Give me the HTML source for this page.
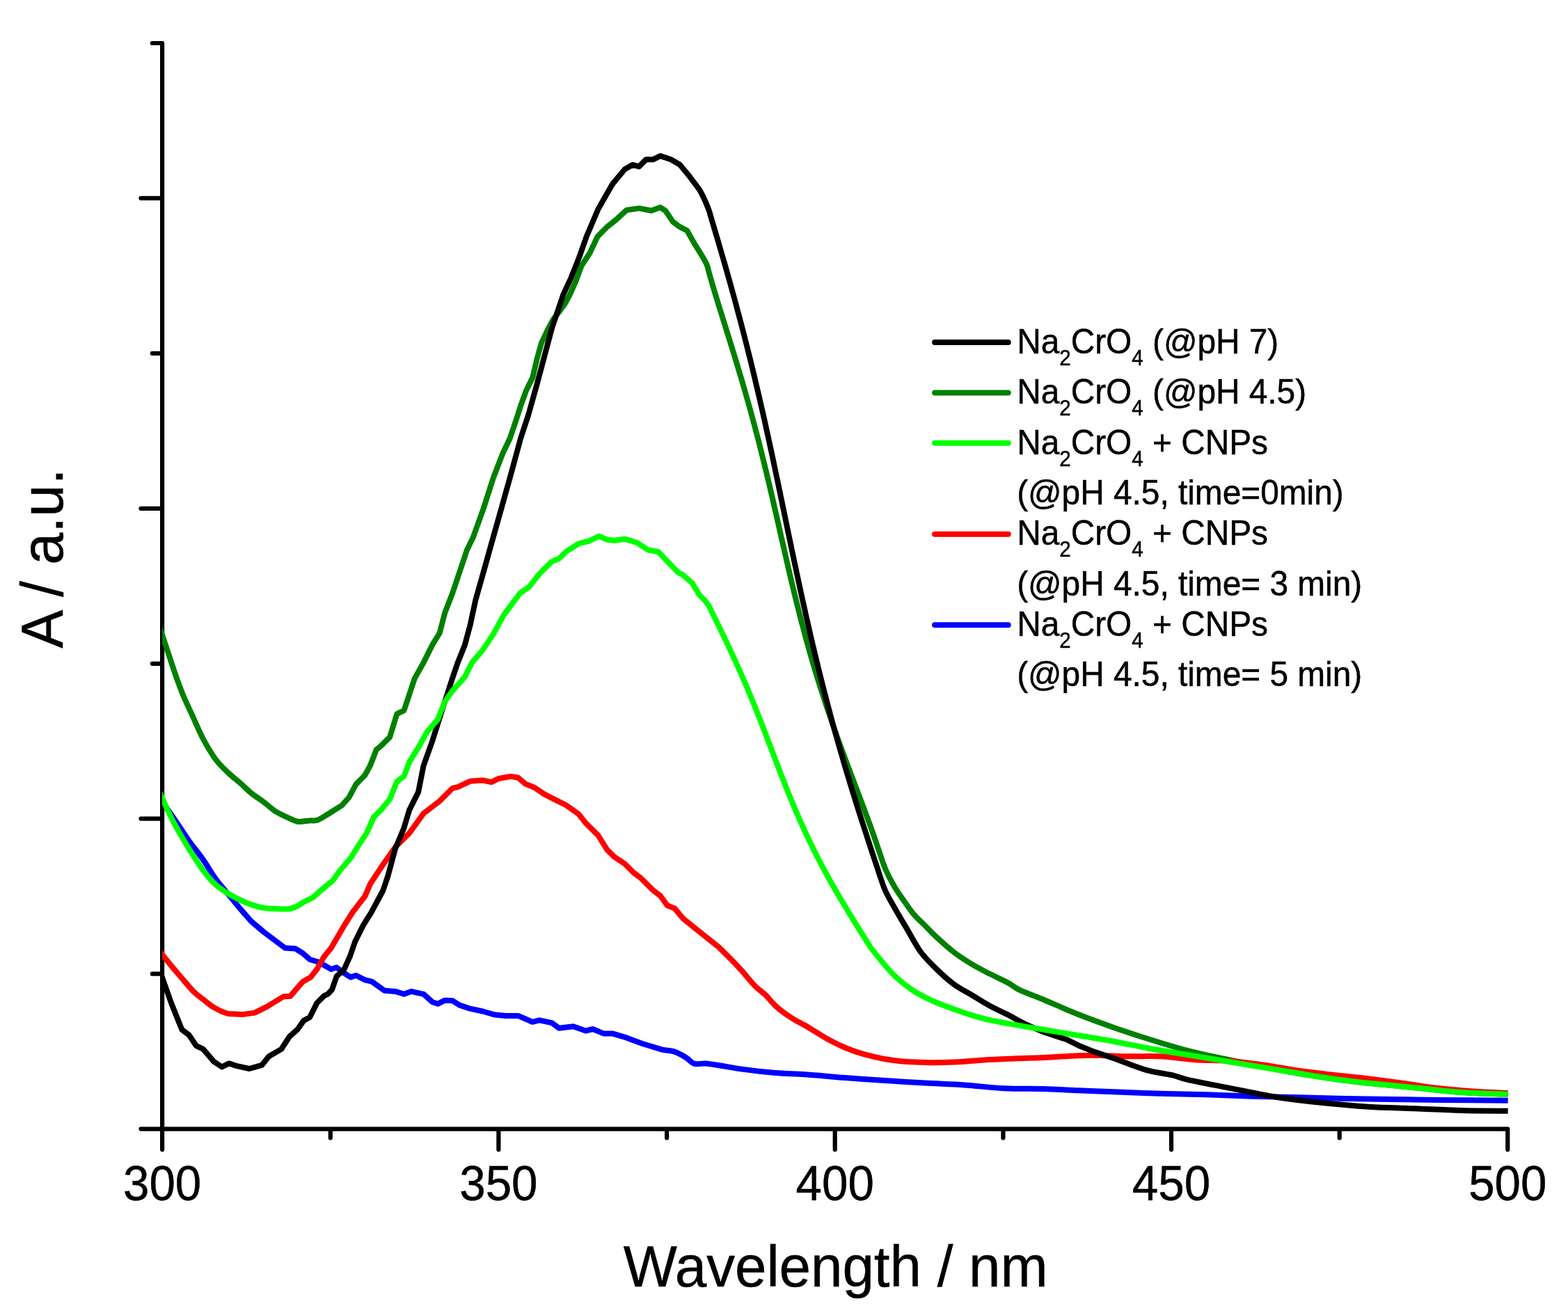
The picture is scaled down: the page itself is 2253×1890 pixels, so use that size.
<!DOCTYPE html>
<html><head><meta charset="utf-8"><title>Absorbance spectra</title>
<style>html,body{margin:0;padding:0;background:#fff;}text{fill:#000;stroke:#000;stroke-width:0.5px;}body{width:2253px;height:1890px;overflow:hidden;font-family:"Liberation Sans",Arial,sans-serif;}svg{display:block;}</style>
</head><body>
<svg width="2253" height="1890" viewBox="0 0 2253 1890" font-family="Liberation Sans, Arial, sans-serif">
<path d="M218.8,62.0 L233.1,62.0 L233.1,1622.6 L2166.3,1622.6 L2166.3,1652.3 M202.5,284.9 L233.1,284.9 M218.8,507.9 L233.1,507.9 M202.5,730.8 L233.1,730.8 M218.8,953.8 L233.1,953.8 M202.5,1176.7 L233.1,1176.7 M218.8,1399.7 L233.1,1399.7 M202.5,1622.6 L233.1,1622.6 M233.1,1622.6 L233.1,1652.3 M474.8,1622.6 L474.8,1635.5 M716.4,1622.6 L716.4,1652.3 M958.1,1622.6 L958.1,1635.5 M1199.7,1622.6 L1199.7,1652.3 M1441.4,1622.6 L1441.4,1635.5 M1683.0,1622.6 L1683.0,1652.3 M1924.7,1622.6 L1924.7,1635.5" fill="none" stroke="#000" stroke-width="6.2" stroke-linecap="round" stroke-linejoin="round"/>
<defs><clipPath id="pc"><rect x="233" y="0" width="1934" height="1622"/></clipPath></defs><g clip-path="url(#pc)">
<path d="M226.0,1141.7 C226.0,1141.7 230.2,1147.7 233.1,1152.0 C238.0,1159.0 246.0,1170.6 252.4,1180.0 C258.8,1189.4 264.9,1199.2 271.5,1208.5 C278.1,1217.7 285.5,1226.4 291.9,1235.6 C298.2,1244.6 303.6,1254.5 309.8,1263.0 C315.6,1270.9 322.0,1278.0 327.7,1285.0 C333.0,1291.5 337.7,1297.3 343.0,1303.6 L360.9,1324.1 L378.8,1339.4 L394.1,1350.9 L409.4,1362.4 L424.7,1363.6 L435.0,1370.0 L445.2,1379.0 L457.9,1382.8 L475.8,1393.0 L483.5,1390.5 L493.7,1398.1 L503.9,1404.5 L511.6,1402.0 L524.3,1408.3 L534.6,1410.9 L552.4,1423.7 L567.8,1424.9 L580.5,1428.8 L590.7,1424.9 L608.6,1428.8 L621.4,1440.3 L629.0,1442.8 L639.3,1437.7 L650.0,1438.2 L660.2,1444.6 L675.5,1449.7 L693.4,1453.5 L711.3,1458.6 L726.6,1459.9 L744.5,1459.9 L764.9,1468.8 L775.1,1466.3 L793.0,1470.1 L803.2,1477.8 L823.7,1475.2 L841.5,1481.6 L851.8,1479.0 L867.1,1485.4 L879.8,1485.4 L900.0,1491.4 L922.9,1500.0 L951.4,1508.6 C957.8,1510.1 963.0,1509.6 968.6,1511.4 C974.5,1513.3 980.7,1516.9 985.7,1520.0 C990.0,1522.7 992.6,1527.1 997.1,1528.6 C1002.0,1530.2 1007.9,1528.1 1014.3,1528.6 C1022.6,1529.2 1033.9,1531.5 1042.9,1532.9 C1050.9,1534.2 1056.7,1535.4 1065.7,1536.6 C1078.9,1538.4 1098.6,1540.7 1114.3,1542.0 C1129.0,1543.2 1141.8,1543.2 1157.1,1544.3 C1174.8,1545.5 1195.2,1547.7 1214.3,1549.1 C1233.3,1550.5 1252.4,1551.7 1271.4,1552.9 C1290.5,1554.2 1309.5,1555.5 1328.6,1556.6 C1347.6,1557.7 1366.7,1558.1 1385.7,1559.4 C1404.8,1560.7 1423.8,1563.4 1442.9,1564.3 C1461.9,1565.2 1481.6,1564.6 1500.0,1565.1 C1517.2,1565.6 1533.3,1566.6 1550.0,1567.3 C1566.7,1568.0 1582.1,1568.6 1600.0,1569.3 C1620.6,1570.1 1644.5,1571.0 1666.7,1571.7 C1688.9,1572.4 1711.1,1572.6 1733.3,1573.3 C1755.5,1574.0 1777.8,1575.0 1800.0,1575.7 C1822.2,1576.4 1844.5,1576.7 1866.7,1577.3 C1888.9,1577.8 1911.1,1578.6 1933.3,1579.0 C1955.5,1579.5 1977.8,1579.7 2000.0,1580.0 C2022.2,1580.3 2042.2,1580.7 2066.7,1581.0 C2096.7,1581.3 2166.7,1581.7 2166.7,1581.7" fill="none" stroke="#0000FF" stroke-width="8.0" stroke-linejoin="round" stroke-linecap="butt"/>
<path d="M226.0,891.5 C226.0,891.5 230.5,905.0 233.1,912.7 C236.2,922.0 240.0,933.3 243.4,943.5 C246.8,953.7 250.1,964.2 253.6,974.0 C256.9,983.2 260.1,991.7 263.8,1000.7 C267.7,1010.0 272.1,1019.0 276.6,1028.8 C281.5,1039.4 286.3,1051.4 291.9,1062.0 C297.4,1072.2 303.4,1082.8 309.8,1091.3 C315.4,1098.7 321.6,1104.6 327.7,1110.5 C333.5,1116.1 339.9,1120.8 345.6,1125.8 C350.9,1130.5 355.5,1135.5 360.9,1139.9 C366.5,1144.4 372.9,1148.2 378.8,1152.6 C384.8,1157.1 390.7,1163.0 396.6,1166.7 C401.7,1170.0 406.8,1171.9 412.0,1174.3 C417.1,1176.6 421.9,1179.8 427.3,1180.7 C432.9,1181.6 440.1,1179.7 445.2,1179.4 C449.1,1179.2 451.8,1179.9 455.4,1178.9 C460.1,1177.6 465.3,1173.7 470.7,1170.5 L491.1,1157.7 L501.4,1146.2 L511.6,1127.1 L524.3,1114.3 L532.0,1100.3 L540.9,1077.3 L547.3,1072.2 L560.1,1059.4 L570.3,1026.2 L580.5,1021.1 L588.2,998.1 L595.8,975.1 L608.6,952.2 L621.4,926.6 L631.6,910.0 L639.3,880.6 L650.0,853.0 L662.6,815.4 L671.1,790.0 L679.6,772.8 L694.9,730.3 L708.5,687.7 L722.2,652.0 L732.7,630.0 L740.8,606.1 L748.1,583.4 L756.3,560.7 L765.3,542.6 L771.7,515.4 L778.0,492.7 L786.5,475.0 L795.0,459.0 L805.0,446.0 L812.0,436.0 L818.8,423.5 L827.6,403.6 L835.5,382.1 L847.4,363.8 L858.6,340.0 L872.2,326.2 L885.0,316.0 L900.3,302.0 L918.2,299.4 L936.0,302.7 L948.8,298.1 L956.5,303.2 L966.7,318.6 L976.9,326.2 L987.1,331.3 L997.3,349.2 C1002.5,358.1 1012.0,371.9 1015.4,380.0 C1017.5,384.8 1017.7,388.0 1018.8,392.0 C1019.9,396.0 1021.1,400.0 1022.3,404.0 C1023.4,408.0 1024.6,412.0 1025.8,416.0 C1027.0,420.0 1028.2,424.0 1029.4,428.0 C1030.7,432.0 1031.9,436.0 1033.1,440.0 C1034.4,444.0 1035.6,448.0 1036.9,452.0 C1038.1,456.0 1039.3,460.0 1040.6,464.0 C1041.8,468.0 1043.1,472.0 1044.3,476.0 C1045.6,480.0 1046.8,484.0 1048.1,488.0 C1049.3,492.0 1050.5,496.0 1051.8,500.0 C1053.0,504.0 1054.2,508.0 1055.5,512.0 C1056.7,516.0 1057.9,520.0 1059.1,524.0 C1060.3,528.0 1061.5,532.0 1062.7,536.0 C1063.9,540.0 1065.1,544.0 1066.3,548.0 C1067.5,552.0 1068.6,556.0 1069.8,560.0 C1070.9,564.0 1072.1,568.0 1073.2,572.0 C1074.3,576.0 1075.5,580.0 1076.6,584.0 C1077.7,588.0 1078.8,592.0 1079.9,596.0 C1081.0,600.0 1082.1,604.0 1083.2,608.0 C1084.2,612.0 1085.3,616.0 1086.3,620.0 C1087.4,624.0 1088.4,628.0 1089.5,632.0 C1090.5,636.0 1091.5,640.0 1092.5,644.0 C1093.5,648.0 1094.6,652.0 1095.5,656.0 C1096.5,660.0 1097.5,664.0 1098.5,668.0 C1099.5,672.0 1100.4,676.0 1101.4,680.0 C1102.4,684.0 1103.3,688.0 1104.3,692.0 C1105.2,696.0 1106.2,700.0 1107.1,704.0 C1108.0,708.0 1109.0,712.0 1109.9,716.0 C1110.8,720.0 1111.7,724.0 1112.6,728.0 C1113.6,732.0 1114.5,736.0 1115.4,740.0 C1116.3,744.0 1117.2,748.0 1118.1,752.0 C1119.0,756.0 1119.9,760.0 1120.8,764.0 C1121.7,768.0 1122.6,772.0 1123.5,776.0 C1124.5,780.0 1125.4,784.0 1126.3,788.0 C1127.2,792.0 1128.1,796.0 1129.0,800.0 C1129.9,804.0 1130.9,808.0 1131.8,812.0 C1132.7,816.0 1133.6,820.0 1134.6,824.0 C1135.5,828.0 1136.4,832.0 1137.4,836.0 C1138.3,840.0 1139.3,844.0 1140.3,848.0 C1141.2,852.0 1142.2,856.0 1143.2,860.0 C1144.2,864.0 1145.2,868.0 1146.2,872.0 C1147.2,876.0 1148.2,880.0 1149.2,884.0 C1150.2,888.0 1151.2,892.0 1152.3,896.0 C1153.3,900.0 1154.4,904.0 1155.5,908.0 C1156.5,912.0 1157.6,916.0 1158.7,920.0 C1159.8,924.0 1160.9,928.0 1162.1,932.0 C1163.2,936.0 1164.3,940.0 1165.5,944.0 C1166.6,948.0 1167.8,952.0 1169.0,956.0 C1170.2,960.0 1171.4,964.0 1172.6,968.0 C1173.8,972.0 1175.0,976.0 1176.3,980.0 C1177.5,984.0 1178.8,988.0 1180.1,992.0 C1181.4,996.0 1182.7,1000.0 1184.0,1004.0 C1185.3,1008.0 1186.6,1012.0 1187.9,1016.0 C1189.3,1020.0 1190.6,1024.0 1192.0,1028.0 C1193.4,1032.0 1194.7,1036.0 1196.1,1040.0 C1197.5,1044.0 1198.9,1048.0 1200.3,1052.0 C1201.8,1056.0 1203.2,1060.0 1204.6,1064.0 C1206.1,1068.0 1207.5,1072.0 1209.0,1076.0 C1210.5,1080.0 1211.9,1084.0 1213.4,1088.0 C1214.9,1092.0 1216.4,1096.0 1217.9,1100.0 C1219.4,1104.0 1220.9,1108.0 1222.4,1112.0 C1223.9,1116.0 1225.4,1120.0 1226.9,1124.0 C1228.4,1128.0 1230.0,1132.0 1231.5,1136.0 C1233.0,1140.0 1234.5,1144.0 1236.0,1148.0 C1237.5,1152.0 1239.0,1156.0 1240.5,1160.0 C1242.0,1164.0 1243.5,1168.0 1245.0,1172.0 C1246.5,1176.0 1247.9,1180.0 1249.4,1184.0 C1250.9,1188.0 1252.3,1192.0 1253.7,1196.0 C1255.2,1200.0 1256.6,1204.0 1257.9,1208.0 C1259.3,1212.0 1260.3,1215.1 1262.0,1220.0 C1264.7,1227.8 1268.5,1240.5 1272.6,1250.0 C1276.6,1259.1 1281.4,1268.0 1286.2,1276.0 C1290.5,1283.2 1295.2,1289.5 1299.8,1296.0 C1304.3,1302.4 1308.6,1309.0 1313.5,1314.7 C1318.3,1320.3 1323.6,1324.8 1328.8,1330.0 C1334.3,1335.5 1339.4,1341.1 1345.8,1347.0 C1353.4,1354.0 1362.7,1362.5 1371.4,1369.2 C1379.7,1375.5 1388.3,1381.0 1396.9,1386.2 C1405.3,1391.2 1413.7,1395.3 1422.4,1399.8 C1431.4,1404.4 1442.7,1409.3 1450.0,1413.5 C1455.1,1416.4 1457.1,1418.7 1462.6,1421.6 C1471.6,1426.3 1486.6,1431.4 1500.0,1437.0 C1515.5,1443.5 1533.2,1451.7 1550.0,1458.3 C1566.6,1464.9 1583.3,1470.9 1600.0,1476.7 C1616.6,1482.5 1633.3,1488.0 1650.0,1493.3 C1666.6,1498.6 1683.3,1503.8 1700.0,1508.3 C1716.6,1512.7 1733.3,1516.4 1750.0,1520.0 C1766.6,1523.6 1783.3,1526.7 1800.0,1530.0 C1816.7,1533.3 1833.3,1536.9 1850.0,1540.0 C1866.6,1543.0 1883.3,1545.8 1900.0,1548.3 C1916.6,1550.8 1933.3,1553.0 1950.0,1555.0 C1966.7,1556.9 1983.3,1558.3 2000.0,1560.0 C2016.7,1561.7 2033.3,1563.3 2050.0,1565.0 C2066.7,1566.7 2082.1,1568.7 2100.0,1570.0 C2120.6,1571.4 2166.7,1572.7 2166.7,1572.7" fill="none" stroke="#008000" stroke-width="8.0" stroke-linejoin="round" stroke-linecap="butt"/>
<path d="M226.0,1363.2 C226.0,1363.2 230.4,1368.7 233.1,1372.0 C236.8,1376.5 241.5,1382.5 246.0,1387.9 C250.8,1393.7 256.0,1399.7 261.3,1405.8 C267.0,1412.4 273.5,1420.8 279.2,1426.2 C283.6,1430.4 287.4,1432.9 291.9,1436.4 C296.8,1440.2 301.6,1444.6 307.3,1447.9 C313.4,1451.5 320.7,1455.2 327.7,1456.9 L348.1,1458.1 L366.0,1455.6 L383.9,1446.6 L406.9,1432.6 L417.1,1431.8 L435.0,1410.9 L446.4,1404.5 L455.4,1393.0 L465.6,1375.1 L475.8,1362.4 L493.7,1331.7 L506.5,1311.3 L524.3,1288.3 L532.0,1270.4 L549.9,1243.3 L567.8,1217.7 L588.2,1197.3 L608.6,1169.2 L631.6,1151.4 L650.0,1133.0 L657.7,1131.2 L675.5,1122.8 L693.4,1121.5 L706.2,1124.1 L716.4,1119.0 L734.3,1115.9 L744.5,1117.7 L754.7,1126.6 L767.5,1131.7 L782.8,1141.9 L798.1,1149.6 L813.4,1157.3 L831.3,1170.0 L841.5,1182.8 L859.4,1200.7 L872.2,1221.1 L882.4,1231.3 L897.7,1241.5 L910.5,1254.3 L920.7,1262.0 L938.6,1279.8 L948.8,1287.5 L959.0,1301.6 L969.2,1305.4 L982.0,1320.7 L1007.5,1341.1 L1033.1,1361.6 L1051.0,1379.4 C1056.2,1384.7 1060.5,1389.2 1065.7,1395.0 C1071.9,1401.9 1079.4,1411.8 1085.7,1418.0 C1090.7,1422.9 1095.4,1425.6 1100.0,1430.0 C1104.9,1434.7 1108.7,1440.6 1114.3,1445.7 C1120.8,1451.6 1129.3,1457.8 1137.1,1462.9 C1144.6,1467.8 1152.2,1471.1 1160.0,1475.7 C1168.4,1480.6 1176.8,1486.5 1185.7,1491.4 C1194.9,1496.5 1204.6,1501.6 1214.3,1505.7 C1223.7,1509.7 1232.3,1512.8 1242.9,1515.7 C1255.6,1519.2 1271.4,1522.4 1285.7,1524.3 C1299.9,1526.2 1314.3,1526.7 1328.6,1527.1 C1342.9,1527.5 1357.1,1527.2 1371.4,1526.6 C1385.7,1526.0 1400.0,1524.3 1414.3,1523.4 C1428.6,1522.5 1442.8,1522.0 1457.1,1521.4 C1471.4,1520.8 1484.1,1520.7 1500.0,1520.0 C1519.8,1519.2 1546.1,1516.9 1566.7,1516.7 C1584.6,1516.5 1600.0,1518.0 1616.7,1518.3 C1633.4,1518.6 1650.1,1517.5 1666.7,1518.3 C1683.4,1519.1 1700.0,1522.2 1716.7,1523.3 C1733.3,1524.4 1750.1,1523.8 1766.7,1525.0 C1783.4,1526.2 1800.1,1528.4 1816.7,1530.7 C1833.4,1533.0 1850.0,1536.6 1866.7,1539.0 C1883.3,1541.4 1900.0,1543.1 1916.7,1545.0 C1933.4,1546.9 1950.0,1548.5 1966.7,1550.5 C1983.4,1552.5 2000.0,1554.8 2016.7,1557.0 C2033.4,1559.3 2050.0,1562.1 2066.7,1564.0 C2083.3,1565.9 2100.0,1567.3 2116.7,1568.5 C2133.4,1569.7 2166.7,1571.0 2166.7,1571.0" fill="none" stroke="#FF0000" stroke-width="8.0" stroke-linejoin="round" stroke-linecap="butt"/>
<path d="M226.0,1384.9 L233.1,1405.0 L246.0,1441.5 L261.3,1479.8 L271.5,1487.5 L281.7,1502.8 L291.9,1507.9 L307.3,1525.8 L318.8,1533.5 L329.0,1528.4 L340.5,1532.2 L358.3,1536.0 L376.2,1530.9 L386.4,1518.2 L404.3,1507.9 L415.8,1490.0 L427.3,1479.8 L436.2,1467.1 L445.2,1462.0 L455.4,1441.5 L465.6,1431.3 L471.4,1428.5 L477.0,1422.3 L483.8,1403.0 L494.1,1393.9 L502.6,1375.2 L510.5,1352.6 L521.9,1329.9 L533.2,1311.8 L541.2,1297.0 L550.3,1280.0 L557.5,1258.6 L567.8,1220.3 L580.5,1189.7 L588.2,1164.1 L601.0,1138.6 L608.6,1100.3 L621.4,1064.5 L634.2,1023.7 L650.0,975.0 L657.7,952.4 L667.9,926.9 L675.5,898.8 L683.2,863.0 L696.6,815.4 L708.5,772.9 L720.5,730.3 L734.0,682.0 L748.1,630.0 L759.0,597.0 L771.7,551.7 L786.2,497.2 L793.5,470.0 L801.3,447.3 L809.3,423.5 L820.4,399.6 L831.5,371.8 L842.7,340.0 L859.4,300.7 L869.6,282.8 L879.8,264.9 L897.7,243.2 L909.2,236.8 L918.2,239.4 L928.4,229.2 L938.6,229.2 L948.8,224.1 L964.1,229.2 L976.9,236.8 L989.7,252.2 L1005.0,272.6 C1010.0,281.0 1015.2,293.2 1018.1,300.7 C1019.9,305.5 1020.5,308.7 1021.7,312.7 C1022.9,316.7 1024.1,320.7 1025.3,324.7 C1026.5,328.7 1027.6,332.7 1028.8,336.7 C1030.0,340.7 1031.2,344.7 1032.4,348.7 C1033.5,352.7 1034.7,356.7 1035.9,360.7 C1037.0,364.7 1038.2,368.7 1039.4,372.7 C1040.5,376.7 1041.7,380.7 1042.8,384.7 C1043.9,388.7 1045.1,392.7 1046.2,396.7 C1047.3,400.7 1048.5,404.7 1049.6,408.7 C1050.7,412.7 1051.8,416.7 1052.9,420.7 C1054.0,424.7 1055.1,428.7 1056.2,432.7 C1057.3,436.7 1058.4,440.7 1059.4,444.7 C1060.5,448.7 1061.6,452.7 1062.6,456.7 C1063.7,460.7 1064.7,464.7 1065.8,468.7 C1066.8,472.7 1067.9,476.7 1068.9,480.7 C1069.9,484.7 1071.0,488.7 1072.0,492.7 C1073.0,496.7 1074.0,500.7 1075.0,504.7 C1076.0,508.7 1077.0,512.7 1078.0,516.7 C1079.0,520.7 1079.9,524.7 1080.9,528.7 C1081.9,532.7 1082.8,536.7 1083.8,540.7 C1084.8,544.7 1085.7,548.7 1086.6,552.7 C1087.6,556.7 1088.5,560.7 1089.5,564.7 C1090.4,568.7 1091.3,572.7 1092.2,576.7 C1093.2,580.7 1094.1,584.7 1095.0,588.7 C1095.9,592.7 1096.8,596.7 1097.7,600.7 C1098.6,604.7 1099.5,608.7 1100.4,612.7 C1101.2,616.7 1102.1,620.7 1103.0,624.7 C1103.9,628.7 1104.7,632.7 1105.6,636.7 C1106.5,640.7 1107.3,644.7 1108.2,648.7 C1109.1,652.7 1109.9,656.7 1110.8,660.7 C1111.6,664.7 1112.5,668.7 1113.3,672.7 C1114.2,676.7 1115.0,680.7 1115.8,684.7 C1116.7,688.7 1117.5,692.7 1118.4,696.7 C1119.2,700.7 1120.0,704.7 1120.9,708.7 C1121.7,712.7 1122.5,716.7 1123.4,720.7 C1124.2,724.7 1125.0,728.7 1125.8,732.7 C1126.7,736.7 1127.5,740.7 1128.3,744.7 C1129.2,748.7 1130.0,752.7 1130.8,756.7 C1131.6,760.7 1132.5,764.7 1133.3,768.7 C1134.1,772.7 1135.0,776.7 1135.8,780.7 C1136.6,784.7 1137.5,788.7 1138.3,792.7 C1139.1,796.7 1140.0,800.7 1140.8,804.7 C1141.7,808.7 1142.5,812.7 1143.4,816.7 C1144.2,820.7 1145.0,824.7 1145.9,828.7 C1146.8,832.7 1147.6,836.7 1148.5,840.7 C1149.3,844.7 1150.2,848.7 1151.1,852.7 C1151.9,856.7 1152.8,860.7 1153.7,864.7 C1154.6,868.7 1155.5,872.7 1156.4,876.7 C1157.2,880.7 1158.1,884.7 1159.0,888.7 C1159.9,892.7 1160.9,896.7 1161.8,900.7 C1162.7,904.7 1163.6,908.7 1164.5,912.7 C1165.5,916.7 1166.4,920.7 1167.3,924.7 C1168.3,928.7 1169.2,932.7 1170.2,936.7 C1171.1,940.7 1172.1,944.7 1173.1,948.7 C1174.0,952.7 1175.0,956.7 1176.0,960.7 C1177.0,964.7 1178.0,968.7 1179.0,972.7 C1180.0,976.7 1181.0,980.7 1182.0,984.7 C1183.0,988.7 1184.0,992.7 1185.1,996.7 C1186.1,1000.7 1187.1,1004.7 1188.2,1008.7 C1189.2,1012.7 1190.3,1016.7 1191.4,1020.7 C1192.4,1024.7 1193.5,1028.7 1194.6,1032.7 C1195.7,1036.7 1196.8,1040.7 1197.9,1044.7 C1199.0,1048.7 1200.1,1052.7 1201.2,1056.7 C1202.4,1060.7 1203.5,1064.7 1204.6,1068.7 C1205.8,1072.7 1206.9,1076.7 1208.1,1080.7 C1209.2,1084.7 1210.4,1088.7 1211.6,1092.7 C1212.7,1096.7 1213.9,1100.7 1215.1,1104.7 C1216.3,1108.7 1217.5,1112.7 1218.7,1116.7 C1219.9,1120.7 1221.2,1124.7 1222.4,1128.7 C1223.6,1132.7 1224.8,1136.7 1226.1,1140.7 C1227.3,1144.7 1228.6,1148.7 1229.8,1152.7 C1231.1,1156.7 1232.3,1160.7 1233.6,1164.7 C1234.9,1168.7 1236.1,1172.7 1237.4,1176.7 C1238.7,1180.7 1240.0,1184.7 1241.3,1188.7 C1242.6,1192.7 1243.9,1196.7 1245.2,1200.7 C1246.5,1204.7 1247.8,1208.7 1249.1,1212.7 C1250.4,1216.7 1251.7,1220.7 1253.0,1224.7 C1254.4,1228.7 1255.7,1232.7 1257.0,1236.7 C1258.3,1240.7 1259.7,1244.8 1261.0,1248.7 C1262.3,1252.5 1263.3,1255.7 1264.7,1260.0 C1266.7,1265.7 1268.9,1273.0 1272.0,1280.0 C1275.7,1288.3 1281.2,1297.3 1286.2,1306.2 C1291.5,1315.6 1297.2,1325.1 1303.2,1335.1 C1309.7,1346.0 1316.2,1359.2 1323.7,1369.2 C1330.5,1378.2 1337.9,1385.4 1345.8,1393.0 C1353.8,1400.8 1362.6,1408.8 1371.4,1415.2 C1379.7,1421.2 1388.4,1425.4 1396.9,1430.5 C1405.4,1435.6 1413.6,1441.0 1422.4,1445.8 C1431.3,1450.7 1441.7,1455.1 1450.0,1459.4 C1456.8,1462.9 1461.5,1466.0 1468.6,1469.5 C1477.8,1474.0 1490.1,1479.6 1501.0,1483.8 L1533.3,1494.3 L1552.4,1503.8 L1571.4,1511.4 L1600.0,1521.0 C1613.9,1525.8 1632.5,1533.9 1647.6,1538.1 C1660.9,1541.8 1675.2,1543.1 1685.7,1545.7 C1693.2,1547.6 1696.7,1549.4 1704.8,1551.4 C1718.7,1554.9 1744.8,1559.5 1761.9,1562.9 C1775.9,1565.7 1787.7,1568.1 1800.0,1570.5 C1811.5,1572.7 1820.3,1574.7 1833.3,1576.7 C1851.7,1579.6 1877.7,1582.7 1900.0,1585.0 C1922.2,1587.3 1944.5,1589.3 1966.7,1590.7 C1988.9,1592.1 2011.1,1592.4 2033.3,1593.3 C2055.5,1594.2 2077.8,1595.4 2100.0,1596.0 C2122.2,1596.6 2166.7,1596.7 2166.7,1596.7" fill="none" stroke="#000000" stroke-width="8.0" stroke-linejoin="round" stroke-linecap="butt"/>
<path d="M226.0,1131.6 C226.0,1131.6 230.4,1141.1 233.1,1147.0 C236.9,1155.2 241.8,1166.8 246.6,1176.2 C251.2,1185.4 256.2,1194.3 261.3,1203.0 C266.3,1211.5 271.4,1219.9 276.6,1228.0 C281.6,1235.9 286.3,1243.7 291.9,1251.0 C297.4,1258.2 303.3,1265.5 309.8,1271.4 C316.1,1277.0 323.0,1281.5 330.2,1285.8 C337.5,1290.1 345.2,1294.0 353.2,1297.2 C361.4,1300.4 370.7,1303.4 378.8,1304.9 C385.9,1306.2 392.6,1306.0 399.2,1306.2 C405.4,1306.4 412.0,1307.1 417.1,1306.2 L427.3,1302.4 L435.0,1297.2 L450.3,1289.6 L463.1,1278.1 L478.4,1265.3 L488.6,1251.0 L503.9,1233.1 L516.7,1212.6 L526.9,1197.3 L537.1,1174.3 L547.3,1164.1 L560.1,1148.8 L570.3,1123.3 L580.5,1115.6 L588.2,1095.2 L601.0,1074.7 L613.7,1051.8 L629.0,1033.9 L639.3,1008.3 L650.0,993.0 L667.9,972.9 L678.1,952.4 L693.4,934.6 L708.7,911.6 L724.1,883.5 L747.0,852.8 L759.8,843.9 L775.1,824.7 L793.0,806.9 L803.2,803.0 L813.4,792.8 L831.3,781.3 L846.6,777.5 L860.7,770.6 L872.2,775.7 L882.4,776.7 L897.7,774.7 L915.6,780.0 L930.9,790.3 L946.2,793.3 L956.5,804.3 L974.1,822.6 L980.9,826.0 L994.5,837.9 L1004.8,855.0 L1013.3,863.5 L1018.2,870.3 C1020.2,873.7 1022.1,878.3 1024.1,882.3 C1026.1,886.3 1028.1,890.3 1030.1,894.3 C1032.0,898.3 1034.0,902.3 1035.9,906.3 C1037.9,910.3 1039.8,914.3 1041.7,918.3 C1043.7,922.3 1045.6,926.3 1047.4,930.3 C1049.3,934.3 1051.2,938.3 1053.0,942.3 C1054.9,946.3 1056.7,950.3 1058.5,954.3 C1060.3,958.3 1062.1,962.3 1063.9,966.3 C1065.6,970.3 1067.4,974.3 1069.1,978.3 C1070.8,982.3 1072.5,986.3 1074.2,990.3 C1075.9,994.3 1077.5,998.3 1079.2,1002.3 C1080.8,1006.3 1082.4,1010.3 1084.1,1014.3 C1085.7,1018.3 1087.3,1022.3 1088.9,1026.3 C1090.4,1030.3 1092.0,1034.3 1093.6,1038.3 C1095.1,1042.3 1096.7,1046.3 1098.2,1050.3 C1099.8,1054.3 1101.3,1058.3 1102.8,1062.3 C1104.3,1066.3 1105.9,1070.3 1107.4,1074.3 C1108.9,1078.3 1110.4,1082.3 1112.0,1086.3 C1113.5,1090.3 1115.0,1094.3 1116.6,1098.3 C1118.1,1102.3 1119.6,1106.3 1121.2,1110.3 C1122.7,1114.3 1124.3,1118.3 1125.9,1122.3 C1127.4,1126.3 1129.0,1130.3 1130.6,1134.3 C1132.2,1138.3 1133.9,1142.3 1135.5,1146.3 C1137.1,1150.3 1138.8,1154.3 1140.5,1158.3 C1142.2,1162.3 1143.9,1166.3 1145.6,1170.3 C1147.3,1174.3 1149.1,1178.3 1150.9,1182.3 C1152.7,1186.3 1154.5,1190.3 1156.3,1194.3 C1158.2,1198.3 1160.0,1202.3 1161.9,1206.3 C1163.8,1210.3 1165.8,1214.3 1167.7,1218.3 C1169.7,1222.3 1171.7,1226.3 1173.8,1230.3 C1175.8,1234.3 1177.9,1238.3 1180.0,1242.3 C1182.1,1246.3 1184.2,1250.3 1186.4,1254.3 C1188.6,1258.3 1190.8,1262.3 1193.0,1266.3 C1195.3,1270.3 1197.5,1274.3 1199.8,1278.3 C1202.1,1282.3 1204.5,1286.3 1206.8,1290.3 C1209.2,1294.3 1211.6,1298.3 1214.0,1302.3 C1216.4,1306.3 1218.8,1310.3 1221.3,1314.3 C1223.8,1318.3 1226.2,1322.3 1228.7,1326.3 C1231.2,1330.3 1233.7,1334.3 1236.2,1338.3 C1238.7,1342.3 1241.3,1346.3 1243.8,1350.3 C1246.3,1354.3 1250.9,1361.6 1251.3,1362.3 C1251.4,1362.4 1251.3,1362.3 1251.4,1362.4 C1252.1,1363.3 1263.2,1377.5 1269.2,1384.5 C1274.8,1391.1 1279.7,1397.1 1286.2,1403.2 C1293.6,1410.2 1303.0,1417.9 1311.8,1423.7 C1320.1,1429.1 1328.7,1433.3 1337.3,1437.3 C1345.7,1441.2 1353.6,1444.1 1362.8,1447.5 C1373.3,1451.4 1386.3,1456.1 1396.9,1459.4 C1406.0,1462.2 1413.7,1464.2 1422.4,1466.2 C1431.4,1468.2 1439.4,1469.5 1450.0,1471.4 C1464.2,1474.0 1483.3,1477.2 1500.0,1480.0 C1516.7,1482.8 1533.3,1485.5 1550.0,1488.3 C1566.7,1491.1 1583.4,1493.6 1600.0,1496.7 C1616.7,1499.8 1633.3,1503.6 1650.0,1506.7 C1666.6,1509.7 1683.3,1512.2 1700.0,1515.0 C1716.7,1517.8 1733.3,1520.5 1750.0,1523.3 C1766.7,1526.1 1783.3,1528.9 1800.0,1531.7 C1816.7,1534.5 1833.3,1537.2 1850.0,1540.0 C1866.7,1542.8 1883.3,1545.8 1900.0,1548.3 C1916.6,1550.8 1933.3,1553.0 1950.0,1555.0 C1966.7,1556.9 1983.3,1558.3 2000.0,1560.0 C2016.7,1561.7 2033.3,1563.3 2050.0,1565.0 C2066.7,1566.7 2082.1,1568.7 2100.0,1570.0 C2120.6,1571.4 2166.7,1572.7 2166.7,1572.7" fill="none" stroke="#00FF00" stroke-width="8.0" stroke-linejoin="round" stroke-linecap="butt"/>
</g>
<text transform="translate(233.10,1725.20) scale(1,1.04)" font-size="67.3" text-anchor="middle">300</text>
<text transform="translate(716.40,1725.20) scale(1,1.04)" font-size="67.3" text-anchor="middle">350</text>
<text transform="translate(1199.70,1725.20) scale(1,1.04)" font-size="67.3" text-anchor="middle">400</text>
<text transform="translate(1683.00,1725.20) scale(1,1.04)" font-size="67.3" text-anchor="middle">450</text>
<text transform="translate(2166.30,1725.20) scale(1,1.04)" font-size="67.3" text-anchor="middle">500</text>
<text transform="translate(1200.60,1848.90) scale(1,1.03)" font-size="81.7" text-anchor="middle">Wavelength / nm</text>
<text transform="translate(89.9,802.6) rotate(-90) scale(1,1.025)" font-size="82.9" text-anchor="middle">A / a.u.</text>
<line x1="1343.1" y1="491.9" x2="1448.7" y2="491.9" stroke="#000000" stroke-width="8.0" stroke-linecap="round"/>
<text transform="translate(1461.20,507.50) scale(1,1.04)" font-size="47.8" xml:space="preserve">Na<tspan font-size="29.5" dy="16.5">2</tspan><tspan dy="-16.5">CrO</tspan><tspan font-size="29.5" dy="16.5">4</tspan><tspan dy="-16.5"> (@pH 7)</tspan></text>
<line x1="1343.1" y1="564.6" x2="1448.7" y2="564.6" stroke="#008000" stroke-width="8.0" stroke-linecap="round"/>
<text transform="translate(1461.20,580.00) scale(1,1.04)" font-size="47.8" xml:space="preserve">Na<tspan font-size="29.5" dy="16.5">2</tspan><tspan dy="-16.5">CrO</tspan><tspan font-size="29.5" dy="16.5">4</tspan><tspan dy="-16.5"> (@pH 4.5)</tspan></text>
<line x1="1343.1" y1="636.8" x2="1448.7" y2="636.8" stroke="#00FF00" stroke-width="8.0" stroke-linecap="round"/>
<text transform="translate(1461.20,652.70) scale(1,1.04)" font-size="47.8" xml:space="preserve">Na<tspan font-size="29.5" dy="16.5">2</tspan><tspan dy="-16.5">CrO</tspan><tspan font-size="29.5" dy="16.5">4</tspan><tspan dy="-16.5"> + CNPs</tspan></text>
<text transform="translate(1461.20,725.00) scale(1,1.04)" font-size="47.8">(@pH 4.5, time=0min)</text>
<line x1="1343.1" y1="767.7" x2="1448.7" y2="767.7" stroke="#FF0000" stroke-width="8.0" stroke-linecap="round"/>
<text transform="translate(1461.20,782.80) scale(1,1.04)" font-size="47.8" xml:space="preserve">Na<tspan font-size="29.5" dy="16.5">2</tspan><tspan dy="-16.5">CrO</tspan><tspan font-size="29.5" dy="16.5">4</tspan><tspan dy="-16.5"> + CNPs</tspan></text>
<text transform="translate(1461.20,855.50) scale(1,1.04)" font-size="47.8">(@pH 4.5, time= 3 min)</text>
<line x1="1343.1" y1="898.3" x2="1448.7" y2="898.3" stroke="#0000FF" stroke-width="8.0" stroke-linecap="round"/>
<text transform="translate(1461.20,914.20) scale(1,1.04)" font-size="47.8" xml:space="preserve">Na<tspan font-size="29.5" dy="16.5">2</tspan><tspan dy="-16.5">CrO</tspan><tspan font-size="29.5" dy="16.5">4</tspan><tspan dy="-16.5"> + CNPs</tspan></text>
<text transform="translate(1461.20,986.00) scale(1,1.04)" font-size="47.8">(@pH 4.5, time= 5 min)</text>
</svg>
</body></html>
